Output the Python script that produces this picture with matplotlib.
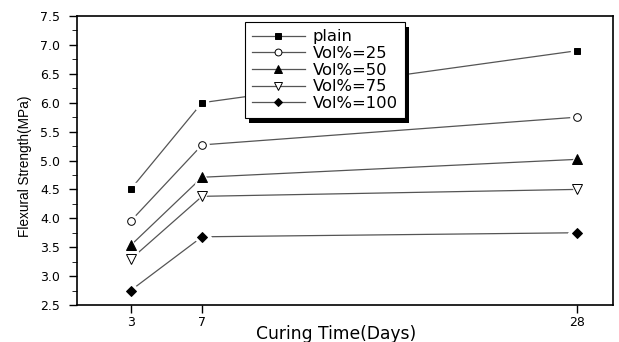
import matplotlib.pyplot as plt
from matplotlib.patches import Rectangle
from matplotlib.ticker import MultipleLocator

plt.rcParams['font.family'] = ['DejaVu Sans']

days = [3, 7, 28]
plain = [4.50, 6.00, 6.90]
vol25 = [3.95, 5.27, 5.75]
vol50 = [3.53, 4.71, 5.02]
vol75 = [3.29, 4.38, 4.50]
vol100 = [2.75, 3.68, 3.75]

series = [plain, vol25, vol50, vol75, vol100]
labels = ["plain", "Vol%=25", "Vol%=50", "Vol%=75", "Vol%=100"]
markers = ["s", "o", "^", "v", "D"]
faces = ["black", "white", "black", "white", "black"]
sizes = [5, 5.5, 6.5, 6.5, 5]

fig = plt.figure(figsize=(6.19, 3.42), dpi=100)
ax = fig.add_axes([77 / 619, 1 - 305 / 342, 536 / 619, 289 / 342])

for vals, lab, m, fc, ms in zip(series, labels, markers, faces, sizes):
    ax.plot(days, vals, color="#555555", lw=0.9, marker=m, markersize=ms,
            markerfacecolor=fc, markeredgecolor="black", markeredgewidth=0.7,
            label=lab, zorder=2)
    # white halo so the line stops short of each marker
    ax.plot(days, vals, ls="none", marker=m, markersize=ms + 4,
            markerfacecolor="white", markeredgecolor="white", zorder=3)
    ax.plot(days, vals, ls="none", marker=m, markersize=ms,
            markerfacecolor=fc, markeredgecolor="black", markeredgewidth=0.7,
            zorder=4)

ax.set_xlim(0, 30)
ax.set_ylim(2.5, 7.5)
ax.set_xticks(days)
ax.yaxis.set_major_locator(MultipleLocator(0.5))
ax.yaxis.set_minor_locator(MultipleLocator(0.25))
ax.yaxis.set_major_formatter(plt.FormatStrFormatter("%.1f"))
ax.tick_params(direction="out", labelsize=9, width=1, length=6)
ax.tick_params(axis="x", pad=2)
ax.tick_params(axis="y", pad=6)
ax.tick_params(which="minor", direction="out", length=3.5)
for s in ax.spines.values():
    s.set_linewidth(1.2)

ax.set_xlabel("Curing Time(Days)", fontsize=12.3)
ax.xaxis.set_label_coords(0.483, -0.07)
ax.set_ylabel("Flexural Strength(MPa)", fontsize=9.8,
              family=["Liberation Sans"])
ax.yaxis.set_label_coords(-0.084, 0.48)

leg = ax.legend(loc="upper left", bbox_to_anchor=(0.313, 0.979), borderaxespad=0,
                fontsize=11.8, handlelength=3.2, labelspacing=0.1,
                handletextpad=0.5, borderpad=0.45, fancybox=False,
                markerscale=0.9)
leg.get_frame().set_edgecolor("black")
leg.get_frame().set_linewidth(0.8)
leg.get_frame().set_alpha(1)

# solid black drop shadow, offset right and down
fig.canvas.draw()
bb = leg.get_window_extent().transformed(fig.transFigure.inverted())
dx, dy = 4 / 619, 5 / 342
ax.add_patch(Rectangle((bb.x0 + dx, bb.y0 - dy), bb.width, bb.height,
                       transform=fig.transFigure, facecolor="black",
                       edgecolor="none", zorder=4.9, clip_on=False))

fig.savefig("out.png", dpi=100)
